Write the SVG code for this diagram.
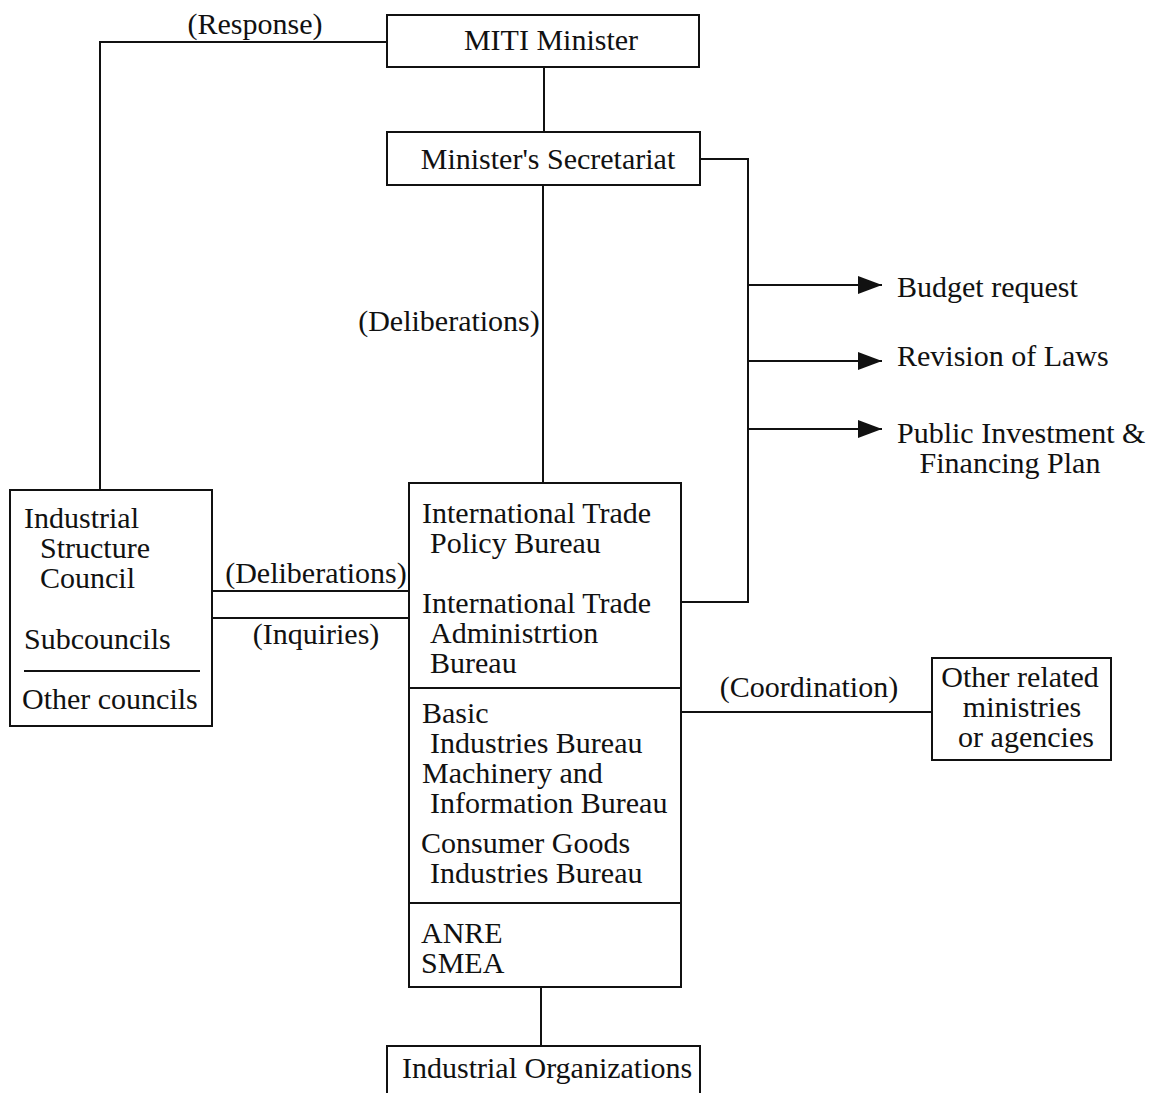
<svg xmlns="http://www.w3.org/2000/svg" width="1152" height="1093" viewBox="0 0 1152 1093">
<style>
text{font-family:"Liberation Serif","Times New Roman",serif;font-size:30px;fill:#111}
.box{fill:#fff;stroke:#111;stroke-width:2}
.ln{fill:none;stroke:#111;stroke-width:2}
.mid{text-anchor:middle}
</style>
<defs>
<marker id="ah" viewBox="0 0 24 18" refX="24" refY="9" markerWidth="24" markerHeight="18" markerUnits="userSpaceOnUse" orient="auto">
<path d="M0,0 L24,9 L0,18 Z" fill="#111"/>
</marker>
</defs>
<rect width="1152" height="1093" fill="#fff"/>
<g id="connectors">
<polyline class="ln" points="387,42 100,42 100,490"/>
<line class="ln" x1="544" y1="67" x2="544" y2="132"/>
<line class="ln" x1="543" y1="185" x2="543" y2="483"/>
<polyline class="ln" points="700,159 748,159 748,602 681,602"/>
<line class="ln" x1="748" y1="285" x2="882" y2="285" marker-end="url(#ah)"/>
<line class="ln" x1="748" y1="361" x2="882" y2="361" marker-end="url(#ah)"/>
<line class="ln" x1="748" y1="429" x2="882" y2="429" marker-end="url(#ah)"/>
<line class="ln" x1="212" y1="591" x2="409" y2="591"/>
<line class="ln" x1="212" y1="618" x2="409" y2="618"/>
<line class="ln" x1="681" y1="712" x2="932" y2="712"/>
<line class="ln" x1="541" y1="987" x2="541" y2="1046"/>
<text x="255" y="34" class="mid">(Response)</text>
<text x="449" y="331" class="mid">(Deliberations)</text>
<text x="316" y="583" class="mid">(Deliberations)</text>
<text x="316" y="644" class="mid">(Inquiries)</text>
<text x="809" y="697" class="mid">(Coordination)</text>
</g>
<g id="miti-minister">
<rect class="box" x="387" y="15" width="312" height="52"/>
<text x="551" y="50" class="mid">MITI Minister</text>
</g>
<g id="secretariat">
<rect class="box" x="387" y="132" width="313" height="53"/>
<text x="548" y="169" class="mid">Minister's Secretariat</text>
</g>
<g id="budget-request"><text x="897" y="297">Budget request</text></g>
<g id="revision-of-laws"><text x="897" y="366">Revision of Laws</text></g>
<g id="public-investment">
<text x="897" y="443">Public Investment &amp;</text>
<text x="1010" y="473" class="mid">Financing Plan</text>
</g>
<g id="industrial-structure-council">
<rect class="box" x="10" y="490" width="202" height="236"/>
<text x="24" y="528">Industrial</text>
<text x="40" y="558">Structure</text>
<text x="40" y="588">Council</text>
<text x="24" y="649">Subcouncils</text>
<line class="ln" x1="24" y1="671" x2="200" y2="671"/>
<text x="22" y="709">Other councils</text>
</g>
<g id="miti-bureaus">
<rect class="box" x="409" y="483" width="272" height="504"/>
<line class="ln" x1="409" y1="688" x2="681" y2="688"/>
<line class="ln" x1="409" y1="903" x2="681" y2="903"/>
<text x="422" y="523">International Trade</text>
<text x="430" y="553">Policy Bureau</text>
<text x="422" y="613">International Trade</text>
<text x="430" y="643">Administrtion</text>
<text x="430" y="673">Bureau</text>
<text x="422" y="723">Basic</text>
<text x="430" y="753">Industries Bureau</text>
<text x="422" y="783">Machinery and</text>
<text x="430" y="813">Information Bureau</text>
<text x="421" y="853">Consumer Goods</text>
<text x="430" y="883">Industries Bureau</text>
<text x="421" y="943">ANRE</text>
<text x="421" y="973">SMEA</text>
</g>
<g id="other-ministries">
<rect class="box" x="932" y="658" width="179" height="102"/>
<text x="1020" y="687" class="mid">Other related</text>
<text x="1022" y="717" class="mid">ministries</text>
<text x="1026" y="747" class="mid">or agencies</text>
</g>
<g id="industrial-organizations">
<rect class="box" x="387" y="1046" width="313" height="60"/>
<text x="402" y="1078">Industrial Organizations</text>
</g>
</svg>
